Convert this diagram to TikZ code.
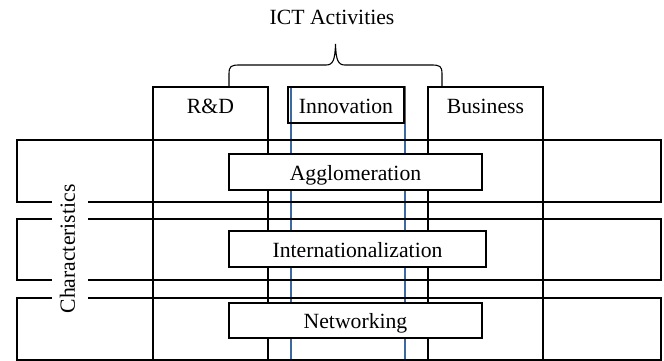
\documentclass[tikz,border=0pt]{standalone}
\usepackage{fontspec}
\setmainfont{Liberation Serif}
\definecolor{ictblue}{RGB}{60,105,160}
\begin{document}
\begin{tikzpicture}[x=1pt,y=-1pt,
  every node/.style={font=\fontsize{21.7}{26}\selectfont,text height=18pt,text depth=2pt},
  frame/.style={draw,line width=1.4pt,inner sep=0pt,outer sep=0pt,anchor=north west},
  lane/.style={draw=ictblue,line width=1.2pt,inner sep=0pt,outer sep=0pt,anchor=north west}]
  \useasboundingbox (0,0) rectangle (664,361);
  % Spalte Innovation (blau)
  \node[lane,minimum width=114,minimum height=273] (inncol) at (291,87) {};
  % Spalten
  \node[frame,minimum width=115,minimum height=273] (rd) at (153,87) {};
  \node[frame,minimum width=115,minimum height=273] (bus) at (428,87) {};
  \node (rdtxt) at (210.5,105) {R\&D};
  \node (bustxt) at (485.5,105) {Business};
  \node[frame,minimum width=116,minimum height=36] (inn) at (288,87) {Innovation};
  % Zeilen
  \foreach \i/\t/\h in {1/140/62, 2/219/61, 3/298/62}
    \node[frame,minimum width=644,minimum height=\h] (row\i) at (17,\t) {};
  \node[frame,fill=white,minimum width=253,minimum height=36] (agg) at (229,154) {Agglomeration};
  \node[frame,fill=white,minimum width=257,minimum height=36] (intl) at (229,231) {Internationalization};
  \node[frame,fill=white,minimum width=253,minimum height=35] (net) at (229,303) {Networking};
  \node[fill=white,rotate=90,inner xsep=0pt,inner ysep=8pt,text height=14.4pt,text depth=4.7pt] (char) at (70,249) {Characteristics};
  % Klammer
  \node (ict) at (332,17) {ICT Activities};
  \coordinate (braceL) at (229,87);
  \coordinate (braceR) at (442,87);
  \coordinate (tip) at (335.5,44);
  \draw[line width=1.1pt] (braceL) -- (229,74) .. controls (229,66) and (231,65) .. (240,65)
    -- (326,65) .. controls (333,65) and (335,60) .. (tip)
    .. controls (336,60) and (338,65) .. (345,65) -- (431,65)
    .. controls (440,65) and (442,66) .. (442,74) -- (braceR);
\end{tikzpicture}
\end{document}
